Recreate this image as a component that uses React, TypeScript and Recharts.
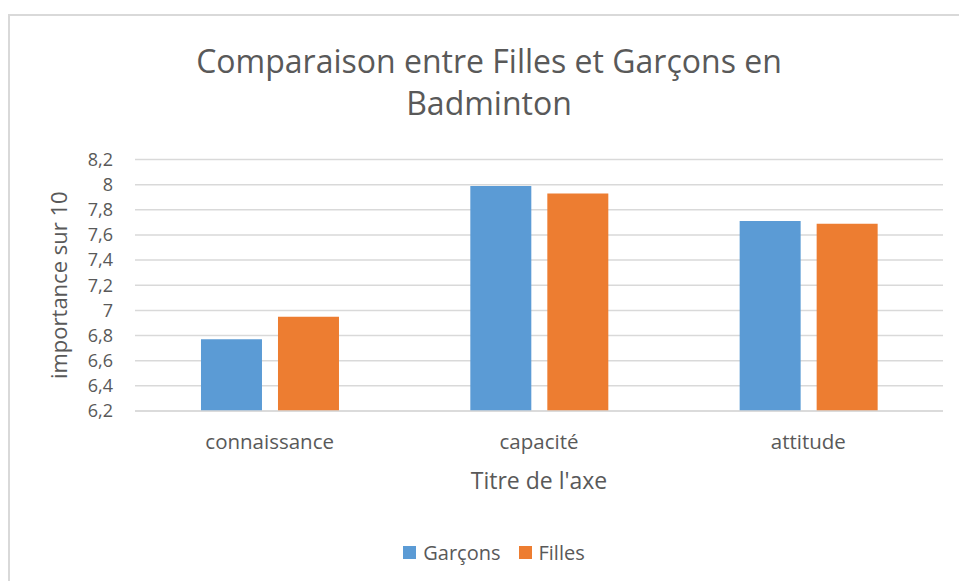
import React from "react";
import { BarChart, Bar, XAxis, YAxis, CartesianGrid, Legend } from "recharts";

const categories = ["connaissance", "capacité", "attitude"];
const garcons = [6.77, 7.99, 7.71];
const filles = [6.95, 7.93, 7.69];
const yTicks = [6.2, 6.4, 6.6, 6.8, 7, 7.2, 7.4, 7.6, 7.8, 8, 8.2];

const data = categories.map((c, i) => ({ name: c, Garçons: garcons[i], Filles: filles[i] }));

const FONT = "'Open Sans', 'Noto Sans', sans-serif";
const GRAY = "#595959";
const BLUE = "#5b9bd5";
const ORANGE = "#ed7d31";

const fmt = (v: number) => String(v).replace(".", ",");

const YLabel = (props: any) => {
  const vb = props.viewBox || { x: 0, y: 0, width: 0, height: 0 };
  const cy = vb.y + vb.height / 2;
  const cx = 58;
  return (
    <text
      x={cx}
      y={cy}
      transform={`rotate(-90, ${cx}, ${cy})`}
      textAnchor="middle"
      dominantBaseline="central"
      fill={GRAY}
      style={{ fontFamily: FONT, fontSize: 22 }}
    >
      importance sur 10
    </text>
  );
};

const XLabel = (props: any) => {
  const vb = props.viewBox || { x: 0, y: 0, width: 0, height: 0 };
  return (
    <text
      x={vb.x + vb.width / 2}
      y={vb.y + 78}
      textAnchor="middle"
      fill={GRAY}
      style={{ fontFamily: FONT, fontSize: 23 }}
    >
      Titre de l'axe
    </text>
  );
};

const LegendContent = () => (
  <div
    style={{
      display: "flex",
      justifyContent: "center",
      alignItems: "center",
      height: 30,
      fontFamily: FONT,
      fontSize: 20,
      color: GRAY,
    }}
  >
    {[
      { label: "Garçons", color: BLUE },
      { label: "Filles", color: ORANGE },
    ].map((it, i) => (
      <div key={it.label} style={{ display: "flex", alignItems: "center", marginLeft: i ? 18 : 0 }}>
        <span style={{ display: "inline-block", width: 13, height: 13, background: it.color, marginRight: 7 }} />
        <span>{it.label}</span>
      </div>
    ))}
  </div>
);

export default function App() {
  return (
    <div style={{ position: "fixed", left: 0, top: 0, width: 959, height: 581, background: "#fff", overflow: "hidden" }}>
      <div
        style={{
          position: "absolute",
          left: 8,
          top: 14,
          width: 960,
          height: 580,
          borderTop: "2px solid #d9d9d9",
          borderLeft: "2px solid #d9d9d9",
        }}
      />
      <div
        style={{
          position: "absolute",
          left: 0,
          width: 978,
          top: 40,
          textAlign: "center",
          fontFamily: FONT,
          fontSize: 32,
          lineHeight: "42px",
          color: GRAY,
          whiteSpace: "nowrap",
        }}
      >
        Comparaison entre Filles et Garçons en
        <br />
        Badminton
      </div>
      <div style={{ position: "absolute", left: 0, top: 0 }}>
        <BarChart
          width={959}
          height={581}
          data={data}
          margin={{ top: 159.5, right: 16, left: 0, bottom: 14 }}
          barCategoryGap="24.5%"
          barGap={16}
        >
          <CartesianGrid vertical={false} stroke="#d9d9d9" strokeWidth={1.5} />
          <XAxis
            dataKey="name"
            axisLine={{ stroke: "#d9d9d9", strokeWidth: 1.5 }}
            tickLine={false}
            tickSize={0}
            tickMargin={23}
            height={126}
            tick={{ fill: GRAY, fontFamily: FONT, fontSize: 20.5 }}
            label={<XLabel />}
          />
          <YAxis
            width={135}
            domain={[6.2, 8.2]}
            ticks={yTicks}
            interval={0}
            axisLine={false}
            tickLine={false}
            tickSize={0}
            tickMargin={22}
            tickFormatter={fmt}
            tick={{ fill: GRAY, fontFamily: FONT, fontSize: 18 }}
            label={<YLabel />}
          />
          <Legend
            verticalAlign="bottom"
            content={<LegendContent />}
            wrapperStyle={{ left: 0, width: 988, height: 30 }}
          />
          <Bar dataKey="Garçons" fill={BLUE} isAnimationActive={false} />
          <Bar dataKey="Filles" fill={ORANGE} isAnimationActive={false} />
        </BarChart>
      </div>
    </div>
  );
}
